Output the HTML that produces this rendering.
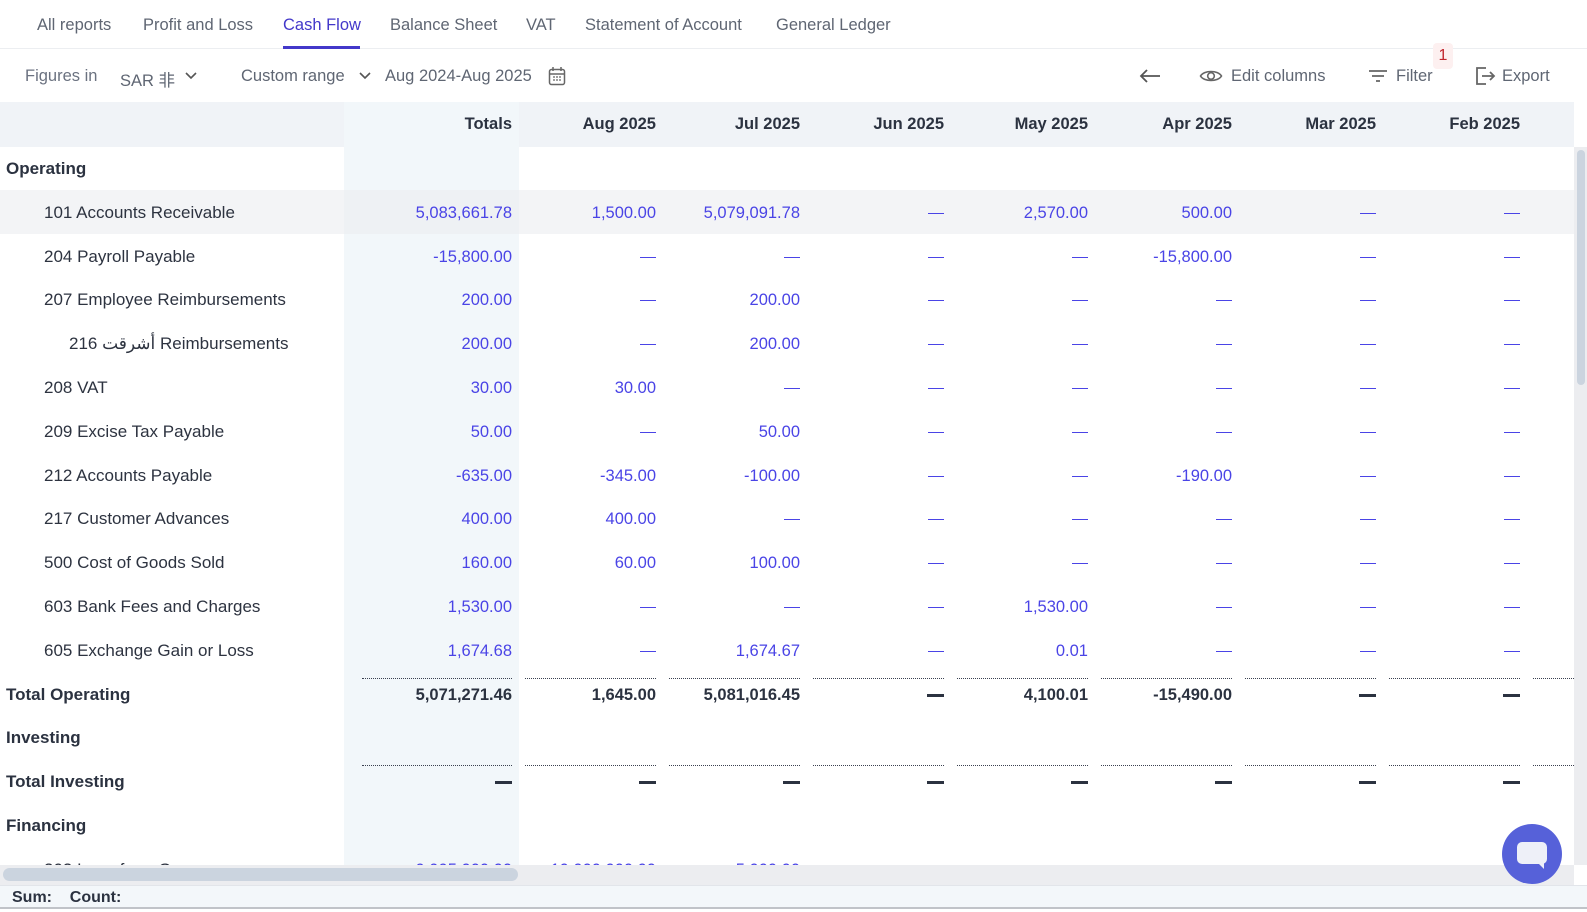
<!DOCTYPE html>
<html><head><meta charset="utf-8"><style>
*{margin:0;padding:0;box-sizing:border-box}
body{width:1587px;height:912px;overflow:hidden;background:#fff;font-family:"Liberation Sans","Noto Sans CJK SC",sans-serif;color:#2d3340;position:relative;font-size:16px}
.a{position:absolute;white-space:nowrap}
.tab{top:16px;color:#5f6673;font-size:16.5px}
.tb{top:67px;color:#5f6673;font-size:16.5px}
.r{text-align:right;width:140px}
.b{color:#4a44e6}
.bold{font-weight:bold;color:#2b3240}
.dot{position:absolute;height:0;border-top:1.5px dotted #3a4150}
</style></head><body>
<div class="a tab" style="left:37px">All reports</div>
<div class="a tab" style="left:143px">Profit and Loss</div>
<div class="a tab" style="left:283px;color:#4338ca">Cash Flow</div>
<div class="a tab" style="left:390px">Balance Sheet</div>
<div class="a tab" style="left:526px">VAT</div>
<div class="a tab" style="left:585px">Statement of Account</div>
<div class="a tab" style="left:776px">General Ledger</div>
<div class="a" style="left:0;top:48px;width:1587px;height:1px;background:#eceef1"></div>
<div class="a" style="left:283px;top:46px;width:77px;height:3px;background:#4338ca"></div>
<div class="a tb" style="left:25px;color:#6b7280">Figures in</div>
<div class="a tb" style="left:120px">SAR 非</div>
<svg class="a" style="left:184px;top:71px" width="14" height="10"><path d="M2 2l5 5 5-5" stroke="#555" stroke-width="1.6" fill="none"/></svg>
<div class="a tb" style="left:241px">Custom range</div>
<svg class="a" style="left:358px;top:71px" width="14" height="10"><path d="M2 2l5 5 5-5" stroke="#555" stroke-width="1.6" fill="none"/></svg>
<div class="a tb" style="left:385px">Aug 2024-Aug 2025</div>
<svg class="a" style="left:548px;top:66px" width="18" height="20"><rect x="1.5" y="3.5" width="15" height="15" rx="2" stroke="#666" stroke-width="1.5" fill="none"/><path d="M5 1v4M13 1v4M2 8h14" stroke="#666" stroke-width="1.5"/><path d="M5 11h2M8 11h2M11 11h2M5 14h2M8 14h2M11 14h2" stroke="#666" stroke-width="1.3"/></svg>
<svg class="a" style="left:1138px;top:68px" width="24" height="16"><path d="M22 8H3M9 2L3 8l6 6" stroke="#555" stroke-width="1.8" fill="none"/></svg>
<svg class="a" style="left:1199px;top:68px" width="24" height="16"><path d="M1.5 8C5 2 19 2 22.5 8 19 14 5 14 1.5 8z" stroke="#666" stroke-width="1.6" fill="none"/><circle cx="12" cy="8" r="3.3" stroke="#666" stroke-width="1.6" fill="none"/></svg>
<div class="a tb" style="left:1231px">Edit columns</div>
<svg class="a" style="left:1368px;top:69px" width="20" height="14"><path d="M1 2h18M4 7h12M8 12h4" stroke="#666" stroke-width="1.8"/></svg>
<div class="a tb" style="left:1396px">Filter</div>
<div class="a" style="left:1433px;top:43px;width:20px;height:26px;background:#fdf0f0;border-radius:4px;color:#c0262d;text-align:center;line-height:26px;font-size:16px">1</div>
<svg class="a" style="left:1474px;top:65px" width="22" height="22"><path d="M12 3H3v16h9" stroke="#666" stroke-width="1.8" fill="none"/><path d="M8 11h12M16 7l4 4-4 4" stroke="#666" stroke-width="1.8" fill="none"/></svg>
<div class="a tb" style="left:1502px">Export</div>
<div class="a" style="left:0;top:102px;width:1574px;height:45px;background:#f0f3f7"></div>
<div class="a" style="left:344px;top:102px;width:175px;height:763px;background:#f2f7fa"></div>
<div class="a" style="left:0;top:190px;width:1574px;height:44px;background:#f3f4f6"></div>
<div class="a" style="left:344px;top:190px;width:175px;height:44px;background:#eef1f4"></div>
<div id="t"></div>
<div class="a" style="left:0;top:865px;width:1574px;height:20px;background:#ecedf0"></div>
<div class="a" style="left:3px;top:868px;width:515px;height:13px;background:#cbd4df;border-radius:7px"></div>
<div class="a" style="left:1574px;top:147px;width:13px;height:718px;background:#ecedf0"></div>
<div class="a" style="left:1577px;top:150px;width:8px;height:235px;background:#cbd4df;border-radius:4px"></div>
<div class="a" style="left:0;top:885px;width:1587px;height:24px;background:#f3f7fa;border-bottom:2px solid #c0c3c8;border-top:1px solid #e2e5ea"></div>
<div class="a bold" style="left:12px;top:889px;font-size:16px">Sum:&nbsp;&nbsp;&nbsp;&nbsp;Count:</div>
<div class="a" style="left:1502px;top:824px;width:60px;height:60px;border-radius:50%;background:#5661d9"></div>
<div class="a" style="left:1517px;top:842px;width:30px;height:22px;border-radius:5px;background:#eef0f8"></div>
<svg class="a" style="left:1537px;top:862px" width="8" height="8"><path d="M0 0h7v7z" fill="#eef0f8"/></svg>
<script>
var cols=[512,656,800,944,1088,1232,1376,1520];
var rows=[
["Operating",1,0,null],
["101 Accounts Receivable",0,1,["5,083,661.78","1,500.00","5,079,091.78","—","2,570.00","500.00","—","—"]],
["204 Payroll Payable",0,1,["-15,800.00","—","—","—","—","-15,800.00","—","—"]],
["207 Employee Reimbursements",0,1,["200.00","—","200.00","—","—","—","—","—"]],
["216 أشرقت Reimbursements",0,2,["200.00","—","200.00","—","—","—","—","—"]],
["208 VAT",0,1,["30.00","30.00","—","—","—","—","—","—"]],
["209 Excise Tax Payable",0,1,["50.00","—","50.00","—","—","—","—","—"]],
["212 Accounts Payable",0,1,["-635.00","-345.00","-100.00","—","—","-190.00","—","—"]],
["217 Customer Advances",0,1,["400.00","400.00","—","—","—","—","—","—"]],
["500 Cost of Goods Sold",0,1,["160.00","60.00","100.00","—","—","—","—","—"]],
["603 Bank Fees and Charges",0,1,["1,530.00","—","—","—","1,530.00","—","—","—"]],
["605 Exchange Gain or Loss",0,1,["1,674.68","—","1,674.67","—","0.01","—","—","—"]],
["Total Operating",2,0,["5,071,271.46","1,645.00","5,081,016.45","—","4,100.01","-15,490.00","—","—"]],
["Investing",1,0,null],
["Total Investing",2,0,["—","—","—","—","—","—","—","—"]],
["Financing",1,0,null],
["303 Loan from Owner",0,1,["9,995,000.00","10,000,000.00","5,000.00","","","","",""]]
];
var h="";
var hd=["Totals","Aug 2025","Jul 2025","Jun 2025","May 2025","Apr 2025","Mar 2025","Feb 2025"];
hd.forEach(function(t,i){h+='<div class="a r bold" style="left:'+(cols[i]-140)+'px;top:115px;font-size:16.5px">'+t+'</div>';});
rows.forEach(function(r,i){
 var cy=Math.round(169+i*43.8), top=cy-10;
 var lx=r[2]==2?69:(r[2]==1?44:6);
 var clip=i==16?'clip-path:inset(0 0 10px 0);':'';
 h+='<div class="a'+(r[1]?' bold':'')+'" style="'+clip+'left:'+lx+'px;top:'+top+'px;font-size:17px">'+r[0]+'</div>';
 if(r[3]) r[3].forEach(function(v,j){
   var st=r[1]==2?'bold':'b';
   if(v=="—"){
     if(r[1]==2) h+='<div class="a" style="left:'+(cols[j]-17)+'px;top:'+(cy-1)+'px;width:17px;height:3px;background:#2b3240"></div>';
     else h+='<div class="a" style="left:'+(cols[j]-16)+'px;top:'+(cy)+'px;width:16px;height:1px;background:#4a44e6"></div>';
     return;
   }
   h+='<div class="a r '+st+'" style="'+clip+'left:'+(cols[j]-140)+'px;top:'+(top+1)+'px;font-size:16.5px">'+v+'</div>';
 });
});
[678,765].forEach(function(y){
 cols.forEach(function(c,j){var l=j==0?362:cols[j-1]+13;h+='<div class="dot" style="left:'+l+'px;top:'+y+'px;width:'+(c-l)+'px"></div>';});
 h+='<div class="dot" style="left:1533px;top:'+y+'px;width:41px"></div>';
});
document.getElementById('t').innerHTML=h;
</script>
</body></html>
